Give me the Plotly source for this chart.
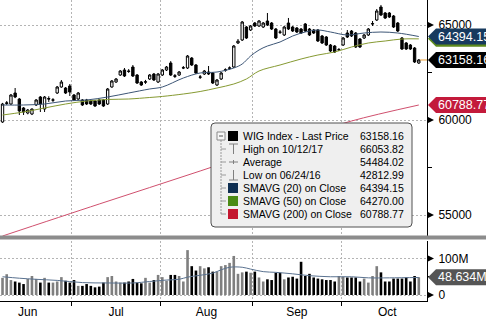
import plotly.graph_objects as go
import pandas as pd

# ---------------- data ----------------
first_day = "2017-06-07"
last_day = "2017-10-26"
holidays = ["2017-06-15", "2017-08-15"]
month_names = ["Jun", "Jul", "Aug", "Sep", "Oct"]

open_ = [59895, 60870, 60842, 61421, 61105, 60632, 60368, 60316, 60790, 61210,
         60579, 61130, 61040, 61421, 61737, 61684, 61789, 61316, 61105, 61053,
         61053, 61000, 61000, 61053, 61053, 60842, 61737, 62000, 62368, 62632,
         62579, 62789, 62368, 62000, 61990, 62158, 62421, 62000, 62368, 62632,
         63000, 62330, 62368, 62737, 62737, 63260, 62895, 62250, 62421, 62526,
         62474, 61842, 62158, 62620, 62720, 62789, 64053, 64210, 64895, 64737,
         65105, 64947, 64895, 65210, 65105, 64789, 64631, 64474, 65105, 64895,
         64842, 64789, 65052, 64789, 64737, 64737, 64421, 64368, 63947, 63895,
         63684, 63947, 64579, 64684, 64579, 64263, 64316, 64474, 65052, 65263,
         65947, 65631, 65631, 65474, 65105, 64316, 64053, 63947, 63789, 63000]
high = [60900, 61000, 61370, 61684, 61160, 60680, 60580, 60600, 61100, 61263,
        61263, 61250, 61150, 61790, 62105, 61737, 61895, 61368, 61474, 61105,
        61110, 61060, 61053, 61105, 61105, 61684, 62105, 62210, 62630, 62737,
        62680, 62895, 62420, 62053, 62110, 62420, 62474, 62474, 62684, 62842,
        63100, 62420, 62579, 62842, 63421, 63316, 62947, 62368, 62632, 62842,
        62526, 62158, 62526, 62720, 62820, 63947, 64263, 65210, 64947, 65000,
        65158, 65263, 65158, 65631, 65158, 64842, 64737, 64947, 65370, 64947,
        64895, 64842, 65105, 64842, 64790, 64790, 64474, 64421, 64000, 63947,
        63790, 64368, 64737, 64737, 64631, 64316, 64526, 64842, 65210, 65842,
        66053.82, 65684, 65684, 65526, 65158, 64368, 64105, 64000, 63842, 63210]
low = [59850, 60790, 60790, 61150, 60263, 60263, 60300, 60260, 60740, 60421,
       60421, 60950, 60950, 61370, 61700, 61368, 61263, 61000, 61053, 60737,
       60790, 60790, 60690, 60790, 60690, 60790, 61700, 61950, 62316, 62263,
       62480, 62263, 61895, 61790, 61900, 62105, 62053, 61947, 62316, 62579,
       62316, 62210, 62316, 62680, 62684, 62842, 62421, 62158, 62368, 62368,
       61895, 61790, 62105, 62540, 62640, 62737, 64000, 64158, 64263, 64684,
       64895, 64895, 64842, 64947, 64737, 64263, 64526, 64421, 64737, 64631,
       64579, 64526, 64631, 64421, 64526, 64105, 64000, 63895, 63579, 63526,
       63630, 63895, 64316, 64368, 63789, 63789, 64263, 64421, 64947, 65210,
       65474, 65316, 65368, 64842, 64631, 63684, 63684, 63684, 63000, 62947]
close = [60842, 60900, 61316, 61210, 60474, 60421, 60526, 60579, 61053, 60842,
         61210, 61105, 61060, 61737, 62000, 61421, 61474, 61053, 61421, 60790,
         60842, 60842, 60737, 60842, 60737, 61632, 62053, 62158, 62579, 62316,
         62560, 62316, 61947, 61842, 62010, 62368, 62105, 62421, 62632, 62789,
         62368, 62300, 62526, 62750, 63368, 62895, 62474, 62263, 62579, 62421,
         61947, 62105, 62474, 62640, 62740, 63895, 64150, 65158, 64316, 64947,
         64947, 65210, 65105, 65000, 64789, 64316, 64620, 64895, 64789, 64684,
         64631, 64579, 64684, 64474, 64579, 64158, 64053, 63947, 63631, 63579,
         63700, 64316, 64368, 64421, 63842, 63842, 64474, 64789, 65070, 65737,
         65526, 65368, 65421, 64895, 64684, 63737, 63737, 63737, 63053, 63158.16]

volume_m = [47, 57, 41, 37, 34, 30, 44, 52, 44, 34,
            47, 34, 34, 37, 49, 39, 34, 41, 25, 25,
            30, 25, 21, 23, 34, 49, 52, 37, 34, 34,
            37, 44, 34, 32, 47, 34, 41, 55, 49, 39,
            55, 55, 52, 37, 123, 79, 67, 79, 73, 76,
            64, 64, 79, 82, 88, 107, 58, 62, 64, 61,
            64, 48, 37, 43, 41, 61, 61, 43, 48, 50,
            45, 91, 52, 58, 48, 45, 43, 41, 41, 37,
            52, 50, 48, 48, 48, 37, 45, 34, 52, 79,
            62, 37, 37, 45, 45, 45, 48, 37, 52, 48.634]

# moving averages (trading-day index, value)
sma20_idx = [0, 5, 10, 15, 20, 25, 30, 35, 38, 43, 47, 51, 55, 57, 59, 61, 63, 66, 69, 72, 75, 78, 82, 86, 90, 94, 99]
sma20_val = [60790, 60790, 60842, 61000, 61053, 61210, 61421, 61632, 61737, 62210, 62474, 62526, 62737, 62947,
             63368, 63684, 63895, 64105, 64421, 64631, 64737, 64631, 64474, 64579, 64631, 64579, 64394.15]
sma50_idx = [0, 5, 10, 15, 20, 25, 30, 35, 38, 43, 47, 51, 55, 58, 61, 66, 71, 75, 79, 83, 87, 91, 95, 99]
sma50_val = [60263, 60421, 60632, 60842, 61000, 61080, 61105, 61185, 61240, 61368, 61500, 61684, 61895, 62158,
             62579, 62895, 63210, 63421, 63579, 63842, 64053, 64158, 64263, 64270.00]
sma200_idx = [0, 23, 47, 71, 83, 99]
sma200_val = [53895, 55579, 57316, 59105, 59947, 60788.77]
volsma_idx = [0, 4, 8, 13, 19, 25, 31, 35, 39, 42, 44, 47, 50, 52, 54, 57, 59, 62, 65, 69, 73, 78, 83, 87, 92, 99]
volsma_m = [50, 46, 43, 40, 34, 33, 33, 37, 41, 43, 49, 54, 60, 69, 76, 76, 71, 64, 62, 58, 53, 50, 50, 47, 47, 48]

legend_labels = ["WIG Index - Last Price", "High on 10/12/17", "Average", "Low on 06/24/16",
                 "SMAVG (20) on Close", "SMAVG (50) on Close", "SMAVG (200) on Close"]
legend_values = ["63158.16", "66053.82", "54484.02", "42812.99", "64394.15", "64270.00", "60788.77"]

price_ticks = [55000, 60000, 65000]
vol_ticks = [0, 100e6]
vol_tick_text = ["0", "100M"]
last_price = 63158.16
last_volume = 48.634e6
tag_sma20, tag_sma50, tag_sma200 = 64394.15, 64270.00, 60788.77

# ---------------- calendar positions ----------------
trading = pd.bdate_range("2017-06-01", "2017-10-31")
trading = trading[~trading.isin(pd.to_datetime(holidays))]
start_pos = list(trading).index(pd.Timestamp(first_day))
pos_all = list(range(-start_pos, len(trading) - start_pos))
sel = (trading >= pd.Timestamp(first_day)) & (trading <= pd.Timestamp(last_day))
xs = [p for p, s in zip(pos_all, sel) if s]
centers, bounds = [], []
for m in range(6, 11):
    ps = [p for p, d in zip(pos_all, trading) if d.month == m]
    centers.append((ps[0] + ps[-1]) / 2)
    if m > 6:
        bounds.append(ps[0] - 0.5)

volume = [v * 1e6 for v in volume_m]
vol_colors = ["#7f7f7f" if c >= o else "#000000" for o, c in zip(open_, close)]

# ---------------- layout constants ----------------
W, H = 486, 319
FONT = "Liberation Sans"
AX_R = 427  # px of right axis


def xp(px):
    return px / W


def yp(py):
    return 1 - py / H


PY_PER = 5000 / 95.0  # price per px
Y_RANGE = [60000 - 116 * PY_PER, 60000 + 120 * PY_PER]
V_PER = 100e6 / 36.5
V_RANGE = [-6 * V_PER, 54 * V_PER]
X_RANGE = [-0.6, 100.95]
GRID = "#b4b4b4"

fig = go.Figure()
fig.add_trace(go.Scatter(x=sma200_idx, y=sma200_val, mode="lines", line=dict(color="#d0506e", width=1, shape="spline"),
                         xaxis="x", yaxis="y", hoverinfo="skip"))
fig.add_trace(go.Scatter(x=sma50_idx, y=sma50_val, mode="lines", line=dict(color="#869a32", width=1, shape="spline"),
                         xaxis="x", yaxis="y", hoverinfo="skip"))
fig.add_trace(go.Scatter(x=sma20_idx, y=sma20_val, mode="lines", line=dict(color="#3d5676", width=1, shape="spline"),
                         xaxis="x", yaxis="y", hoverinfo="skip"))
fig.add_trace(go.Candlestick(x=xs, open=open_, high=high, low=low, close=close,
                             increasing=dict(line=dict(color="black", width=1), fillcolor="white"),
                             decreasing=dict(line=dict(color="black", width=1), fillcolor="black"),
                             whiskerwidth=0, xaxis="x", yaxis="y", hoverinfo="skip"))
fig.add_trace(go.Bar(x=xs, y=volume, marker=dict(color=vol_colors, line=dict(width=0)), width=0.62,
                     xaxis="x2", yaxis="y2", hoverinfo="skip"))
fig.add_trace(go.Scatter(x=volsma_idx, y=[v * 1e6 for v in volsma_m], mode="lines",
                         line=dict(color="#5a7290", width=1, shape="spline"), xaxis="x2", yaxis="y2", hoverinfo="skip"))

axfont = dict(family=FONT, size=12, color="black")
fig.update_layout(
    width=W, height=H, margin=dict(l=0, r=0, t=0, b=0), showlegend=False,
    paper_bgcolor="white", plot_bgcolor="white", hovermode=False, boxgap=0.2,
    font=dict(family=FONT),
    xaxis=dict(domain=[0, xp(AX_R)], range=X_RANGE, anchor="y", tickmode="array", tickvals=centers,
               showticklabels=False, ticks="", showgrid=False, zeroline=False, showline=False,
               rangeslider=dict(visible=False), fixedrange=True,
               minor=dict(tickmode="array", tickvals=bounds, showgrid=True, gridcolor=GRID,
                          griddash="2px,2px", gridwidth=1, ticks="")),
    xaxis2=dict(domain=[0, xp(AX_R)], range=X_RANGE, anchor="y2", tickmode="array", tickvals=centers,
                ticktext=month_names, ticks="", showgrid=False, zeroline=False, showline=True,
                linecolor="black", linewidth=1, tickfont=axfont,
                minor=dict(tickmode="array", tickvals=bounds, showgrid=True, gridcolor=GRID,
                           griddash="2px,2px", gridwidth=1, ticks="outside", ticklen=4, tickcolor="black")),
    yaxis=dict(domain=[yp(236), 1], range=Y_RANGE, anchor="x", side="right", tickmode="array",
               tickvals=price_ticks, ticktext=[str(v) for v in price_ticks], ticks="", showgrid=True,
               gridcolor=GRID, griddash="2px,2px", gridwidth=1, zeroline=False, showline=True,
               linecolor="black", linewidth=1, tickfont=axfont, ticklabelstandoff=8,
               minor=dict(dtick=2500, tick0=0, ticks="outside", ticklen=4, tickcolor="black", showgrid=False)),
    yaxis2=dict(domain=[yp(301), yp(241)], range=V_RANGE, anchor="x2", side="right", tickmode="array",
                tickvals=vol_ticks, ticktext=vol_tick_text, ticks="", showgrid=True, gridcolor=GRID,
                griddash="2px,2px", gridwidth=1, zeroline=False, showline=True, linecolor="black",
                linewidth=1, tickfont=axfont, ticklabelstandoff=8,
                minor=dict(dtick=50e6, tick0=0, ticks="outside", ticklen=4, tickcolor="black", showgrid=False)),
)

shapes = []
annots = []

# separator band
shapes.append(dict(type="rect", xref="paper", yref="paper", x0=0, x1=1, y0=yp(239.5), y1=yp(235.5),
                   fillcolor="#8c8c8c", line=dict(width=0), layer="above"))

# axis triangles
for v in price_ticks:
    d = 3.5 * PY_PER
    shapes.append(dict(type="path", xref="paper", yref="y",
                       path=f"M {xp(AX_R)},{v + d} L {xp(AX_R + 7)},{v} L {xp(AX_R)},{v - d} Z",
                       fillcolor="black", line=dict(width=0)))
for v in vol_ticks:
    d = 3.5 * V_PER
    shapes.append(dict(type="path", xref="paper", yref="y2",
                       path=f"M {xp(AX_R)},{v + d} L {xp(AX_R + 7)},{v} L {xp(AX_R)},{v - d} Z",
                       fillcolor="black", line=dict(width=0)))

# last price line
shapes.append(dict(type="line", xref="x", yref="y", x0=xs[-1] + 0.3, x1=X_RANGE[1], y0=last_price, y1=last_price,
                   line=dict(color="#eda23a", width=1)))


def tag(value, color, yref, per, text, textcolor="white"):
    d = 8 * per
    shapes.append(dict(type="path", xref="paper", yref=yref,
                       path=(f"M {xp(428)},{value} L {xp(436)},{value + d} L {xp(492)},{value + d} "
                             f"L {xp(492)},{value - d} L {xp(436)},{value - d} Z"),
                       fillcolor=color, line=dict(width=0)))
    if text:
        annots.append(dict(x=xp(436), y=value, xref="paper", yref=yref, text=text, showarrow=False,
                           xanchor="left", yanchor="middle", font=dict(family=FONT, size=12.5, color=textcolor)))


tag(tag_sma200, "#c31a3b", "y", PY_PER, f"{tag_sma200:.2f}")
tag(tag_sma50, "#5d8a1c", "y", PY_PER, None)
tag(tag_sma20, "#173a5e", "y", PY_PER, f"{tag_sma20:.2f}")
tag(last_price, "#000000", "y", PY_PER, f"{last_price:.2f}")
tag(last_volume, "#555555", "y2", V_PER, f"{last_volume / 1e6:.3f}M")


# legend box
def rrect(x0, y0, x1, y1, r):
    pts = [f"M {xp(x0 + r)},{yp(y0)}", f"L {xp(x1 - r)},{yp(y0)}", f"Q {xp(x1)},{yp(y0)} {xp(x1)},{yp(y0 + r)}",
           f"L {xp(x1)},{yp(y1 - r)}", f"Q {xp(x1)},{yp(y1)} {xp(x1 - r)},{yp(y1)}",
           f"L {xp(x0 + r)},{yp(y1)}", f"Q {xp(x0)},{yp(y1)} {xp(x0)},{yp(y1 - r)}",
           f"L {xp(x0)},{yp(y0 + r)}", f"Q {xp(x0)},{yp(y0)} {xp(x0 + r)},{yp(y0)} Z"]
    return " ".join(pts)


shapes.append(dict(type="path", xref="paper", yref="paper", path=rrect(211, 123, 412, 227, 4),
                   fillcolor="#efefef", line=dict(color="#505050", width=1), layer="above"))

rows = [136, 149, 162, 175, 188, 201, 214]
# tree
shapes.append(dict(type="line", xref="paper", yref="paper", x0=xp(221), x1=xp(221), y0=yp(140), y1=yp(214),
                   line=dict(color="#9a9a9a", width=1, dash="2px,1px"), layer="above"))
for r in rows[1:]:
    shapes.append(dict(type="line", xref="paper", yref="paper", x0=xp(221), x1=xp(226), y0=yp(r), y1=yp(r),
                       line=dict(color="#9a9a9a", width=1), layer="above"))
# collapse box
shapes.append(dict(type="rect", xref="paper", yref="paper", x0=xp(217), x1=xp(225), y0=yp(140), y1=yp(132),
                   fillcolor="#f7f7f7", line=dict(color="#8a8a8a", width=1), layer="above"))
shapes.append(dict(type="line", xref="paper", yref="paper", x0=xp(219), x1=xp(223), y0=yp(136), y1=yp(136),
                   line=dict(color="#555555", width=1), layer="above"))

sq_colors = {0: "#000000", 4: "#0f2f52", 5: "#4a8a14", 6: "#c4162f"}
for i, c in sq_colors.items():
    r = rows[i]
    shapes.append(dict(type="rect", xref="paper", yref="paper", x0=xp(228), x1=xp(238), y0=yp(r + 5), y1=yp(r - 5),
                       fillcolor=c, line=dict(width=0), layer="above"))
icon = dict(color="#808080", width=1)
r = rows[1]
shapes += [dict(type="line", xref="paper", yref="paper", x0=xp(229), x1=xp(238), y0=yp(r - 5), y1=yp(r - 5), line=icon, layer="above"),
           dict(type="line", xref="paper", yref="paper", x0=xp(233.5), x1=xp(233.5), y0=yp(r - 5), y1=yp(r + 5), line=icon, layer="above")]
r = rows[2]
shapes += [dict(type="line", xref="paper", yref="paper", x0=xp(229), x1=xp(238), y0=yp(r), y1=yp(r), line=icon, layer="above"),
           dict(type="line", xref="paper", yref="paper", x0=xp(233.5), x1=xp(233.5), y0=yp(r - 2), y1=yp(r + 2), line=icon, layer="above")]
r = rows[3]
shapes += [dict(type="line", xref="paper", yref="paper", x0=xp(229), x1=xp(238), y0=yp(r + 5), y1=yp(r + 5), line=icon, layer="above"),
           dict(type="line", xref="paper", yref="paper", x0=xp(233.5), x1=xp(233.5), y0=yp(r - 5), y1=yp(r + 5), line=icon, layer="above")]

for lab, val, r in zip(legend_labels, legend_values, rows):
    annots.append(dict(x=xp(241), y=yp(r), xref="paper", yref="paper", text=lab, showarrow=False,
                       xanchor="left", yanchor="middle", font=dict(family=FONT, size=10.5, color="black")))
    annots.append(dict(x=xp(406), y=yp(r), xref="paper", yref="paper", text=val, showarrow=False,
                       xanchor="right", yanchor="middle", font=dict(family=FONT, size=10.5, color="black")))

fig.update_layout(shapes=shapes, annotations=annots)
fig.write_html("out.html")
